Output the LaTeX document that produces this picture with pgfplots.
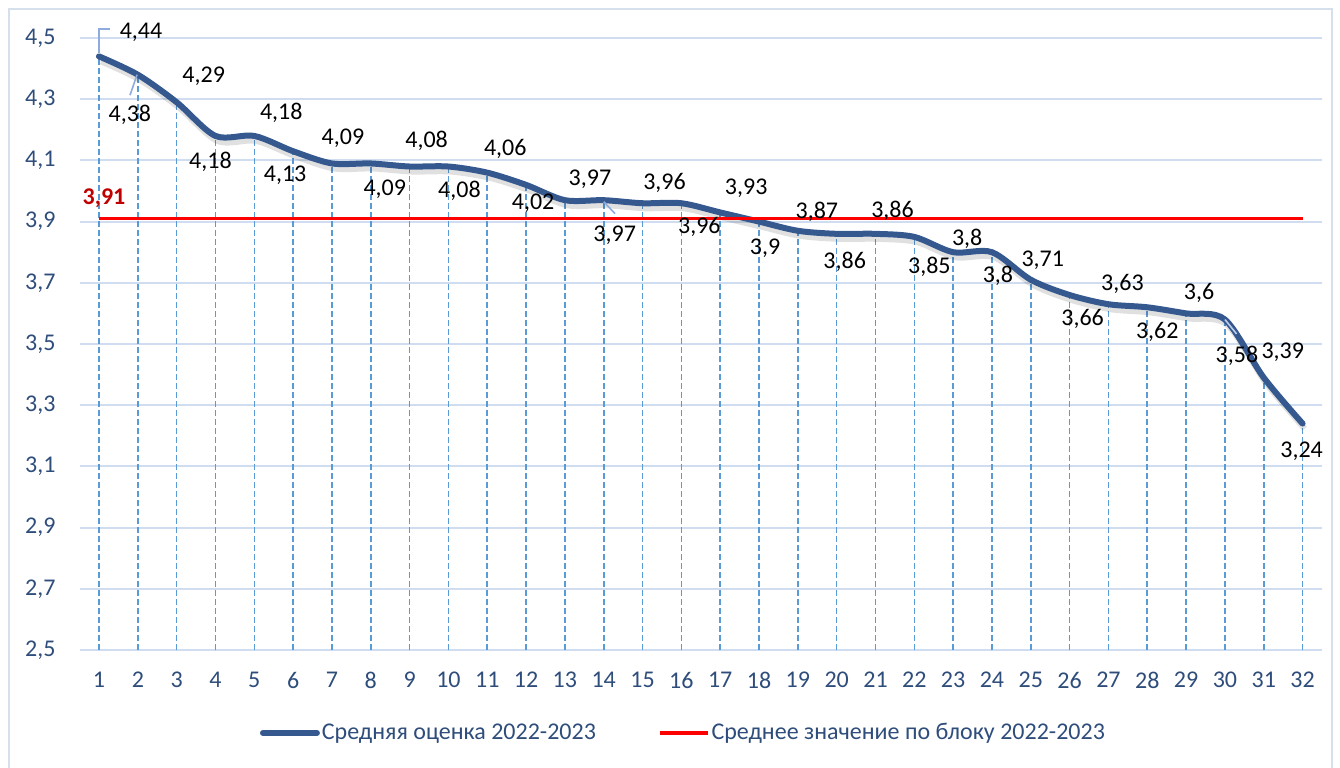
\documentclass[border=0pt]{standalone}
\usepackage{pgfplots}
\pgfplotsset{compat=1.18}
\usepackage{pgfplotstable}
\usepackage{fontspec}
\setmainfont{Carlito}
\definecolor{lineblue}{HTML}{35598F}
\definecolor{dropblue}{HTML}{5B9BD5}
\definecolor{gridc}{HTML}{D0DCEF}
\definecolor{tickc}{HTML}{2E4D7B}
\definecolor{darkred}{HTML}{C00000}
\definecolor{leader}{HTML}{8FAADC}
\definecolor{framec}{HTML}{D6DFEC}

% x, value, label text, label offset (pt)
\pgfplotstableread{
x y lab dx dy
1 4.44 4,44 21 12
2 4.38 4,38 -4 -20
3 4.29 4,29 13.5 13
4 4.18 4,18 -2.5 -13
5 4.18 4,18 13.5 11.5
6 4.13 4,13 -4 -12
7 4.09 4,09 5.5 12.5
8 4.09 4,09 7 -13
9 4.08 4,08 8.5 13
10 4.08 4,08 5.5 -12
11 4.06 4,06 9 12
12 4.02 4,02 3.5 -9
13 3.97 3,97 12.5 10.5
14 3.97 3,97 5.5 -17.5
15 3.96 3,96 11 10
16 3.96 3,96 9 -12
17 3.93 3,93 13 12
18 3.9 3,9 3 -13.5
19 3.87 3,87 9.5 9.5
20 3.86 3,86 4 -14
21 3.86 3,86 8.5 11.5
22 3.85 3,85 7.5 -15
23 3.8 3,8 7 6.5
24 3.8 3,8 3 -12
25 3.71 3,71 6 9.5
26 3.66 3,66 6.5 -12
27 3.63 3,63 7 10
28 3.62 3,62 5 -12.5
29 3.6 3,6 6.5 10
30 3.58 3,58 6 -18
31 3.39 3,39 9.5 12.5
32 3.24 3,24 -0.5 -14
}\means

\pgfplotstableread{
x y lab
1 3.91 3,91
32 3.91 {}
}\block

\begin{document}
\begin{tikzpicture}[font=\fontsize{12}{14}\selectfont]
\useasboundingbox (-39.8pt,-58.5pt) rectangle (630.2pt,325pt);
\draw[framec, line width=1pt] (-35.3pt,-62pt) rectangle (626pt,320.5pt);
\begin{axis}[
  scale only axis, width=621.2pt, height=306pt,
  xmin=0.5, xmax=32.5, ymin=2.5, ymax=4.5,
  clip=false,
  axis line style={draw=none}, major tick length=0pt,
  xtick={1,...,32},
  ytick={2.5,2.7,2.9,3.1,3.3,3.5,3.7,3.9,4.1,4.3,4.5},
  ymajorgrids, grid style={gridc, line width=1pt},
  /pgf/number format/assume math mode=true,
  tick label style={text=tickc},
  xticklabel style={anchor=center, yshift=-15pt},
  yticklabel style={anchor=east, xshift=-8.5pt,
    /pgf/number format/.cd, fixed, fixed zerofill, precision=1, use comma},
  legend style={at={(axis description cs:0.486,0)}, anchor=center, yshift=-41.5pt,
    legend columns=2, draw=none, fill=none, text=tickc,
    nodes={inner sep=1pt},
    /tikz/every even column/.style={column sep=30pt}},
]
% drop lines
\addplot[dropblue, line width=0.8pt, dash pattern=on 3pt off 1.5pt,
  quiver={u=0, v=\thisrow{y}-2.5}, forget plot] table[x=x, y expr=2.5] {\means};
% shadow
\addplot[black, opacity=0.12, line width=3pt, smooth, tension=0.5,
  xshift=1pt, yshift=-2.5pt, forget plot] table[x=x, y=y] {\means};
\addplot[lineblue, line width=3pt, smooth, tension=0.5, line cap=round,
  legend image code/.code={\draw[lineblue, line width=3pt, line cap=round] (0pt,0pt) -- (27pt,0pt);}]
  table[x=x, y=y] {\means};
\addlegendentry{Средняя оценка 2022-2023}
\addplot[red, line width=1.8pt,
  legend image code/.code={\draw[red, line width=1.8pt] (0pt,0pt) -- (24pt,0pt);}]
  table[x=x, y=y] {\block};
\addlegendentry{Среднее значение по блоку 2022-2023}
% leader lines
\draw[leader, line width=0.8pt] (axis cs:1,4.451) -- (axis cs:1,4.53) -- (axis cs:1.283,4.53);
\draw[leader, line width=0.8pt] (axis cs:1.798,4.313) -- (axis cs:1.98,4.38);
\draw[leader, line width=0.8pt] (axis cs:14,3.965) -- (axis cs:14.29,3.926);
\draw[leader!60!white, line width=0.8pt] (axis cs:30,3.58) -- (axis cs:30.3,3.533);
% data labels
\addplot[draw=none, forget plot, point meta=explicit symbolic,
  visualization depends on={\thisrow{dx}\as\dx},
  visualization depends on={\thisrow{dy}\as\dy},
  nodes near coords,
  nodes near coords style={text=black, anchor=center, xshift=\dx, yshift=\dy}]
  table[x=x, y=y, meta=lab] {\means};
\addplot[draw=none, forget plot, point meta=explicit symbolic,
  nodes near coords,
  nodes near coords style={text=darkred, font=\fontsize{12}{14}\selectfont\bfseries,
    anchor=center, xshift=2.5pt, yshift=10pt}]
  table[x=x, y=y, meta=lab] {\block};
\end{axis}
\end{tikzpicture}
\end{document}
